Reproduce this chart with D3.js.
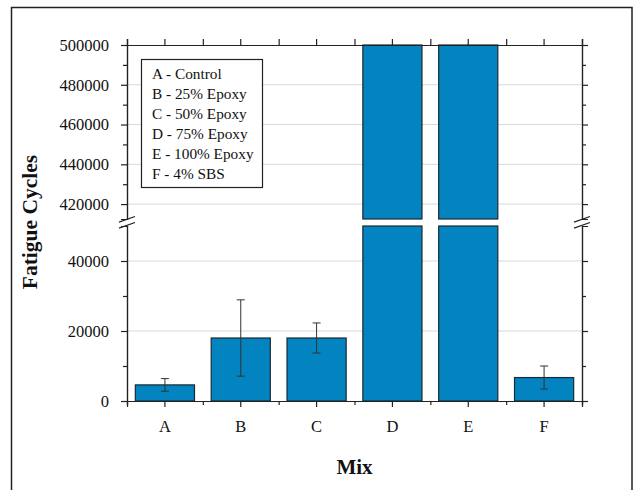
<!DOCTYPE html>
<html>
<head>
<meta charset="utf-8">
<script src="https://cdn.jsdelivr.net/npm/d3@7"></script>
<style>
  body { margin: 0; background: #fff; }
  svg text { font-family: "Liberation Serif", "Times New Roman", serif; fill: #111; }
</style>
</head>
<body>
<div id="chart"></div>
<script>
// data
var categories = ["A", "B", "C", "D", "E", "F"];
var meanCycles = [4600, 18000, 18000, 500000, 500000, 6700];
var errCycles = [1800, 10900, 4300, null, null, 3300];
var legendLabels = ["A - Control", "B - 25% Epoxy", "C - 50% Epoxy", "D - 75% Epoxy", "E - 100% Epoxy", "F - 4% SBS"];
var lowerMajor = [0, 20000, 40000];
var lowerMinor = [10000, 30000];
var upperMajor = [420000, 440000, 460000, 480000, 500000];
var upperMinor = [430000, 450000, 470000, 490000];

var W = 639, H = 490;
var left = 127, right = 582;
var lowDomain = [0, 50000], upDomain = [412500, 500000];

var svg = d3.select("#chart").append("svg")
  .attr("width", W)
  .attr("height", H);

// outer frame
svg.append("rect")
  .attr("x", 11.5).attr("y", 7.5)
  .attr("width", 620.5).attr("height", 500)
  .attr("fill", "none")
  .attr("stroke", "#222")
  .attr("stroke-width", 1.5);

var x = d3.scaleBand()
  .domain(categories)
  .range([left, right])
  .paddingInner(0.22)
  .paddingOuter(0.11);

var xEdge = d3.scaleLinear()
  .domain([0, categories.length])
  .range([left, right]);

var yLow = d3.scaleLinear().domain(lowDomain).range([401, 226]);
var yUp = d3.scaleLinear().domain(upDomain).range([219, 45]);

// grid
var grid = svg.append("g");
grid.selectAll(".gl")
  .data(lowerMajor.filter(function (d) { return d > 0 }))
  .enter().append("line")
  .attr("x1", left).attr("x2", right)
  .attr("y1", function (d) { return yLow(d) })
  .attr("y2", function (d) { return yLow(d) })
  .attr("stroke", "#d8d8d8");
grid.selectAll(".gu")
  .data(upperMajor.filter(function (d) { return d < 500000 }))
  .enter().append("line")
  .attr("x1", left).attr("x2", right)
  .attr("y1", function (d) { return yUp(d) })
  .attr("y2", function (d) { return yUp(d) })
  .attr("stroke", "#d8d8d8");

// bars, split across the break
var bars = svg.append("g");
categories.forEach(function (c, i) {
  var v = meanCycles[i];
  var lowTop = Math.min(v, lowDomain[1]);
  bars.append("rect")
    .attr("x", x(c))
    .attr("width", x.bandwidth())
    .attr("y", yLow(lowTop))
    .attr("height", yLow(0) - yLow(lowTop))
    .attr("fill", "#0383bf")
    .attr("stroke", "#1c2a33")
    .attr("stroke-width", 1.2);
  if (v > upDomain[0]) {
    var upTop = Math.min(v, upDomain[1]);
    bars.append("rect")
      .attr("x", x(c))
      .attr("width", x.bandwidth())
      .attr("y", yUp(upTop))
      .attr("height", yUp(upDomain[0]) - yUp(upTop))
      .attr("fill", "#0383bf")
      .attr("stroke", "#1c2a33")
      .attr("stroke-width", 1.2);
  }
});

// error bars
var err = svg.append("g").attr("stroke", "#333").attr("stroke-width", 1);
categories.forEach(function (c, i) {
  if (errCycles[i] == null) return;
  var cx = x(c) + x.bandwidth() / 2;
  var hi = yLow(meanCycles[i] + errCycles[i]);
  var lo = yLow(meanCycles[i] - errCycles[i]);
  err.append("line").attr("x1", cx).attr("x2", cx).attr("y1", hi).attr("y2", lo);
  err.append("line").attr("x1", cx - 4).attr("x2", cx + 4).attr("y1", hi).attr("y2", hi);
  err.append("line").attr("x1", cx - 4).attr("x2", cx + 4).attr("y1", lo).attr("y2", lo);
});

function styleAxis(g) {
  g.selectAll("path, line").attr("stroke", "#222").attr("stroke-width", 1.2);
  g.selectAll("text").remove();
}

function labelAxis(g) {
  g.selectAll("path, line").attr("stroke", "#222").attr("stroke-width", 1.2);
  g.selectAll("text").attr("x", -18).attr("font-size", 16.5).attr("fill", "#111")
    .style("font-family", "Liberation Serif, serif")
    .text(function (d) { return d3.format("d")(d) });
}

// left axis
svg.append("g").attr("transform", "translate(" + left + ",0)")
  .call(d3.axisLeft(yLow).tickValues(lowerMajor).tickSizeOuter(0).tickSize(6))
  .call(labelAxis);
svg.append("g").attr("transform", "translate(" + left + ",0)")
  .call(d3.axisLeft(yLow).tickValues(lowerMinor).tickSizeOuter(0).tickSize(4))
  .call(styleAxis);
svg.append("g").attr("transform", "translate(" + left + ",0)")
  .call(d3.axisLeft(yUp).tickValues(upperMajor).tickSizeOuter(0).tickSize(6))
  .call(labelAxis);
svg.append("g").attr("transform", "translate(" + left + ",0)")
  .call(d3.axisLeft(yUp).tickValues(upperMinor).tickSizeOuter(0).tickSize(4))
  .call(styleAxis);

// right axis (ticks only)
[[yLow, lowerMajor, 6], [yLow, lowerMinor, 4], [yUp, upperMajor, 6], [yUp, upperMinor, 4]].forEach(function (a) {
  svg.append("g").attr("transform", "translate(" + right + ",0)")
    .call(d3.axisRight(a[0]).tickValues(a[1]).tickSizeOuter(0).tickSize(a[2]))
    .call(styleAxis);
});

// bottom axis
svg.append("g").attr("transform", "translate(0," + yLow(0) + ")")
  .call(d3.axisBottom(x).tickSizeOuter(0).tickSize(6))
  .call(function (g) {
    g.selectAll("path, line").attr("stroke", "#222").attr("stroke-width", 1.2);
    g.selectAll("text").attr("y", 19).attr("font-size", 16.5).attr("fill", "#111")
      .style("font-family", "Liberation Serif, serif");
  });
svg.append("g").attr("transform", "translate(0," + yLow(0) + ")")
  .call(d3.axisBottom(xEdge).tickValues(d3.range(categories.length + 1)).tickSizeOuter(0).tickSize(4))
  .call(styleAxis);

// top axis
svg.append("g").attr("transform", "translate(0," + yUp(500000) + ")")
  .call(d3.axisTop(x).tickSizeOuter(0).tickSize(6))
  .call(styleAxis);
svg.append("g").attr("transform", "translate(0," + yUp(500000) + ")")
  .call(d3.axisTop(xEdge).tickValues(d3.range(categories.length + 1)).tickSizeOuter(0).tickSize(6))
  .call(styleAxis);

// break marks
[left, right].forEach(function (ax) {
  [219.3, 225.3].forEach(function (by) {
    svg.append("line")
      .attr("x1", ax - 8).attr("y1", by + 2.8)
      .attr("x2", ax + 8).attr("y2", by - 2.8)
      .attr("stroke", "#222").attr("stroke-width", 1.2);
  });
});

// legend
var lg = svg.append("g");
lg.append("rect")
  .attr("x", 141.5).attr("y", 59.5)
  .attr("width", 121).attr("height", 128)
  .attr("fill", "#fff")
  .attr("stroke", "#222")
  .attr("stroke-width", 1.2);
lg.selectAll("text")
  .data(legendLabels)
  .enter().append("text")
  .attr("x", 152)
  .attr("y", function (d, i) { return 78.5 + i * 20.1 })
  .attr("font-size", 15.3)
  .text(function (d) { return d });

// axis titles
svg.append("text")
  .attr("x", (left + right) / 2)
  .attr("y", 474)
  .attr("text-anchor", "middle")
  .attr("font-size", 21)
  .attr("font-weight", "bold")
  .text("Mix");

svg.append("text")
  .attr("transform", "translate(37,222) rotate(-90)")
  .attr("text-anchor", "middle")
  .attr("font-size", 21.5)
  .attr("font-weight", "bold")
  .text("Fatigue Cycles");
</script>
</body>
</html>
